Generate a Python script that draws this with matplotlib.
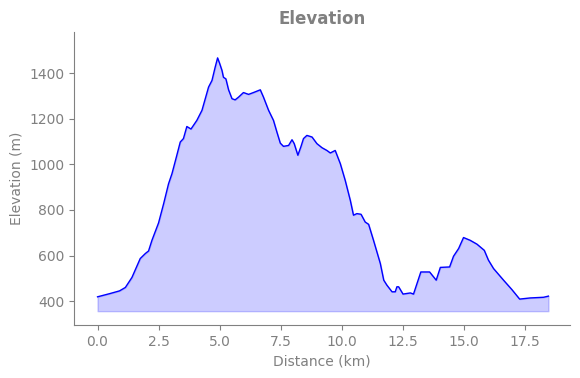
import matplotlib
matplotlib.use("Agg")
import matplotlib.pyplot as plt
import numpy as np

distance_km = [0.0, 0.5, 0.9, 1.14, 1.41, 1.75, 1.96, 2.09, 2.23, 2.5, 2.71, 2.91, 3.05, 3.23, 3.39, 3.52,
               3.66, 3.83, 4.07, 4.28, 4.55, 4.69, 4.82, 4.92, 5.0, 5.10, 5.16, 5.26, 5.37, 5.51,
               5.64, 5.78, 5.98, 6.19, 6.39, 6.67, 6.80, 7.01, 7.21, 7.35, 7.49, 7.62, 7.83, 7.97,
               8.06, 8.21, 8.34, 8.44, 8.58, 8.79, 8.99, 9.20, 9.40, 9.54, 9.74, 9.95, 10.15, 10.36,
               10.49, 10.63, 10.80, 10.97, 11.11, 11.31, 11.59, 11.73, 11.86, 12.07, 12.20, 12.27,
               12.34, 12.52, 12.82, 12.95, 13.25, 13.61, 13.88, 14.05, 14.43, 14.59, 14.80, 15.0,
               15.27, 15.55, 15.85, 16.02, 16.23, 16.64, 16.98, 17.30, 17.73, 18.28, 18.48]
elevation_m = [419, 433, 445, 460, 504, 587, 609, 620, 667, 743, 828, 915, 959, 1032, 1098, 1113,
               1166, 1155, 1193, 1237, 1339, 1368, 1426, 1467, 1444, 1412, 1382, 1375, 1327, 1288,
               1283, 1295, 1315, 1307, 1315, 1327, 1295, 1237, 1193, 1142, 1093, 1079, 1083, 1108,
               1091, 1040, 1079, 1113, 1127, 1120, 1091, 1073, 1061, 1050, 1061, 1003, 930, 842,
               777, 784, 781, 747, 737, 667, 565, 492, 470, 441, 441, 463,
               463, 431, 436, 431, 528, 528, 492, 548, 550, 597, 631, 679,
               667, 650, 623, 580, 543, 492, 451, 409, 414, 417, 422]

x = np.array(distance_km)
y = np.array(elevation_m)
base = y.min() - 53

fig = plt.figure(figsize=(5.8, 3.78), dpi=100)
ax = fig.add_axes([0.128, 0.14, 0.855, 0.775])
ax.plot(x, y, color="blue", lw=1)
ax.fill_between(x, y, base, color="blue", alpha=0.2)

grey = "#808080"
ax.set_title("Elevation", fontsize=12, fontweight="bold", color=grey)
ax.set_xlabel("Distance (km)", color=grey)
ax.set_ylabel("Elevation (m)", color=grey)
ax.tick_params(colors=grey)
for s in ["top", "right"]:
    ax.spines[s].set_visible(False)
for s in ["left", "bottom"]:
    ax.spines[s].set_color(grey)
ax.set_xlim(-0.955, 19.37)
ax.set_ylim(295, 1580)

fig.savefig("out.png", dpi=100)
